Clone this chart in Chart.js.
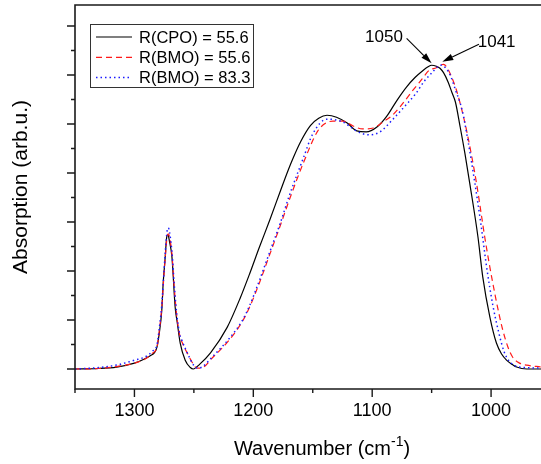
<!DOCTYPE html>
<html>
<head>
<meta charset="utf-8">
<script src="https://cdn.jsdelivr.net/npm/chart.js@4.4.1/dist/chart.umd.min.js"></script>
<style>
  html, body { margin: 0; padding: 0; background: #fff; overflow: hidden; }
  #wrap { width: 541px; height: 464px; }
</style>
</head>
<body>
<div id="wrap"><canvas id="spectrum" width="541" height="464"></canvas></div>
<script>
const FONT = '"Liberation Sans", Arial, sans-serif';

const seriesLabels = ['R(CPO) = 55.6', 'R(BMO) = 55.6', 'R(BMO) = 83.3'];

// R(CPO) = 55.6, black solid
const cpoWave = [1350, 1330, 1315, 1300, 1292, 1286, 1283, 1281, 1279, 1277, 1275.8, 1274.1, 1272.8, 1271.8, 1270.5, 1268.5, 1265.7, 1264, 1261.5, 1257.3, 1253, 1250.5, 1245, 1236, 1222, 1211, 1203, 1195, 1186, 1177, 1168, 1160, 1152, 1145, 1138, 1130, 1121, 1113, 1105, 1096, 1088, 1079, 1071, 1064, 1057, 1053, 1050, 1046, 1043, 1040, 1036, 1033, 1030, 1026, 1022, 1018, 1011, 1007, 1001, 995.5, 991, 987, 982, 978.5, 970, 958];
const cpoAbs = [0, 0.01, 0.04, 0.12, 0.2, 0.28, 0.34, 0.45, 0.75, 1.2, 1.76, 2.29, 2.7, 2.74, 2.6, 2.3, 1.25, 0.95, 0.53, 0.18, 0.03, 0, 0.1, 0.33, 0.85, 1.45, 1.95, 2.48, 3.05, 3.65, 4.22, 4.65, 4.97, 5.12, 5.18, 5.14, 5.02, 4.86, 4.84, 4.94, 5.15, 5.49, 5.76, 5.95, 6.1, 6.17, 6.2, 6.18, 6.14, 6.05, 5.85, 5.65, 5.45, 4.94, 4.4, 3.8, 2.69, 1.88, 1.06, 0.53, 0.3, 0.18, 0.09, 0.04, 0, 0];

// R(BMO) = 55.6, red dashed
const bmo1Wave = [1350, 1330, 1315, 1300, 1290, 1285, 1281, 1279, 1277, 1275.5, 1274, 1272.5, 1271.5, 1270.5, 1268.5, 1266, 1264.3, 1262, 1260, 1255, 1250, 1247.5, 1244, 1234, 1220, 1209, 1203, 1195, 1186, 1177, 1169, 1158, 1146, 1139, 1133, 1124.5, 1116, 1108, 1099, 1091, 1083, 1076.6, 1065.7, 1058, 1052, 1046, 1043, 1040, 1037, 1033, 1029.5, 1026.3, 1020.7, 1012.3, 1005.3, 1001.1, 998.6, 994, 990.2, 986, 981.8, 976, 970, 958];
const bmo1Abs = [0, 0.01, 0.05, 0.12, 0.22, 0.32, 0.45, 0.8, 1.25, 1.8, 2.3, 2.7, 2.76, 2.7, 2.35, 1.5, 1.06, 0.7, 0.55, 0.3, 0.08, 0.02, 0.02, 0.24, 0.6, 0.98, 1.27, 1.75, 2.35, 2.95, 3.5, 4.2, 4.85, 5.02, 5.06, 5.06, 4.96, 4.9, 4.92, 5.04, 5.18, 5.35, 5.69, 5.92, 6.1, 6.15, 6.2, 6.22, 6.15, 5.95, 5.72, 5.45, 4.88, 3.8, 2.69, 2.09, 1.76, 1.2, 0.8, 0.46, 0.24, 0.12, 0.08, 0.04];

// R(BMO) = 83.3, blue dotted
const bmo2Wave = [1350, 1330, 1315, 1300, 1290, 1285, 1281, 1279, 1277, 1275.5, 1274, 1272.5, 1271.5, 1270.5, 1268.5, 1266, 1264.3, 1262, 1260, 1255, 1250, 1247, 1244, 1234, 1220, 1209, 1203, 1195, 1186, 1177, 1170, 1158, 1150, 1138, 1124.5, 1117, 1110, 1102, 1093.4, 1082.5, 1072, 1064, 1056, 1050, 1045, 1042, 1038, 1034, 1030, 1024.5, 1019, 1013.6, 1008.5, 1003.8, 998.5, 993.4, 989, 985, 976, 958];
const bmo2Abs = [0, 0.03, 0.08, 0.18, 0.26, 0.36, 0.5, 0.85, 1.3, 1.85, 2.4, 2.82, 2.88, 2.8, 2.4, 1.55, 1.1, 0.72, 0.58, 0.3, 0.07, 0.02, 0.03, 0.26, 0.63, 1.0, 1.3, 1.8, 2.4, 3.0, 3.52, 4.3, 4.8, 5.1, 5.04, 4.92, 4.82, 4.78, 4.84, 5.1, 5.38, 5.6, 5.88, 6.04, 6.17, 6.2, 6.14, 5.98, 5.7, 5.3, 4.6, 3.79, 2.95, 2.09, 1.3, 0.73, 0.35, 0.17, 0.04, 0.02];

const xMajorTicks = [1300, 1200, 1100, 1000];
const xMinorTicks = [1350, 1250, 1150, 1050];
const yMajorTicks = [0, 1, 2, 3, 4, 5, 6, 7];
const yMinorTicks = [0.5, 1.5, 2.5, 3.5, 4.5, 5.5, 6.5];

const peakLabels = ['1050', '1041'];
const peakWave = [1050, 1041];
const peakAbs = [6.24, 6.27];

const toPoints = (xs, ys) => xs.map((x, i) => ({ x: x, y: ys[i] }));

const styles = [
    { color: '#000000', width: 1.2, dash: [] },
    { color: '#ff1a1a', width: 1.2, dash: [6, 4] },
    { color: '#1a1aff', width: 1.5, dash: [1.5, 3] }
];

const framePlugin = {
    id: 'frame',
    afterDatasetsDraw(chart) {
        const { ctx, chartArea: a, scales: { x, y } } = chart;
        ctx.save();
        ctx.strokeStyle = '#1a1a1a';
        ctx.lineWidth = 1.6;
        ctx.beginPath();
        ctx.moveTo(a.right + 2, a.top);
        ctx.lineTo(a.left, a.top);
        ctx.lineTo(a.left, a.bottom);
        ctx.lineTo(a.right + 2, a.bottom);
        ctx.stroke();

        ctx.lineWidth = 1.4;
        ctx.beginPath();
        yMajorTicks.forEach(v => { const p = y.getPixelForValue(v); ctx.moveTo(a.left, p); ctx.lineTo(a.left - 8, p); });
        yMinorTicks.forEach(v => { const p = y.getPixelForValue(v); ctx.moveTo(a.left, p); ctx.lineTo(a.left - 4, p); });
        xMajorTicks.forEach(v => { const p = x.getPixelForValue(v); ctx.moveTo(p, a.bottom); ctx.lineTo(p, a.bottom + 8); });
        xMinorTicks.forEach(v => { const p = x.getPixelForValue(v); ctx.moveTo(p, a.bottom); ctx.lineTo(p, a.bottom + 4); });
        ctx.stroke();
        ctx.restore();
    }
};

const legendPlugin = {
    id: 'boxLegend',
    afterDraw(chart) {
        const { ctx, chartArea: a } = chart;
        const bx = a.left + 15, by = a.top + 19;
        ctx.save();
        ctx.strokeStyle = '#333';
        ctx.lineWidth = 1;
        ctx.strokeRect(bx + 0.5, by + 0.5, 163, 63);
        ctx.font = '16.5px ' + FONT;
        ctx.textBaseline = 'middle';
        ctx.fillStyle = '#000';
        seriesLabels.forEach((label, i) => {
            const ry = by + 13 + i * 20.3;
            const s = styles[i];
            ctx.strokeStyle = s.color;
            ctx.lineWidth = s.width;
            ctx.setLineDash(s.dash);
            ctx.beginPath();
            ctx.moveTo(bx + 6, ry);
            ctx.lineTo(bx + 42, ry);
            ctx.stroke();
            ctx.setLineDash([]);
            ctx.fillText(label, bx + 49, ry + 1);
        });
        ctx.restore();
    }
};

const peakPlugin = {
    id: 'peaks',
    afterDraw(chart) {
        const { ctx, scales: { x, y } } = chart;
        const offsets = [
            { tx: -47.7, ty: -27.3, ax: -25, ay: -25 },
            { tx: 54.3, ty: -20.7, ax: 36.6, ay: -17.7 }
        ];
        ctx.save();
        ctx.font = '17px ' + FONT;
        ctx.textAlign = 'center';
        ctx.textBaseline = 'middle';
        ctx.fillStyle = '#000';
        ctx.strokeStyle = '#000';
        ctx.lineWidth = 1.1;
        peakLabels.forEach((label, i) => {
            const px = x.getPixelForValue(peakWave[i]);
            const py = y.getPixelForValue(peakAbs[i]);
            const o = offsets[i];
            ctx.fillText(label, px + o.tx, py + o.ty + 1);
            const sx = px + o.ax, sy = py + o.ay;
            const ang = Math.atan2(py - sy, px - sx);
            const hl = 11, hw = 3.3;
            const bxp = px - hl * Math.cos(ang), byp = py - hl * Math.sin(ang);
            ctx.beginPath();
            ctx.moveTo(sx, sy);
            ctx.lineTo(bxp, byp);
            ctx.stroke();
            ctx.beginPath();
            ctx.moveTo(px, py);
            ctx.lineTo(bxp + hw * Math.sin(ang), byp - hw * Math.cos(ang));
            ctx.lineTo(bxp - hw * Math.sin(ang), byp + hw * Math.cos(ang));
            ctx.closePath();
            ctx.fill();
        });
        ctx.restore();
    }
};

// axis titles drawn by hand: the x title needs a superscript
const titlePlugin = {
    id: 'axisTitles',
    afterDraw(chart) {
        const { ctx, chartArea: a } = chart;
        ctx.save();
        ctx.fillStyle = '#000';

        ctx.save();
        ctx.translate(21, a.top + 182);
        ctx.rotate(-Math.PI / 2);
        ctx.font = '21px ' + FONT;
        ctx.textAlign = 'center';
        ctx.textBaseline = 'middle';
        ctx.fillText('Absorption (arb.u.)', 0, 0);
        ctx.restore();

        const main = 'Wavenumber (cm', sup = '-1', close = ')';
        ctx.textBaseline = 'alphabetic';
        ctx.font = '20px ' + FONT;
        const w1 = ctx.measureText(main).width, w3 = ctx.measureText(close).width;
        ctx.font = '14px ' + FONT;
        const w2 = ctx.measureText(sup).width;
        let cx = 322 - (w1 + w2 + w3) / 2;
        const base = 455;
        ctx.font = '20px ' + FONT;
        ctx.fillText(main, cx, base);
        cx += w1;
        ctx.font = '14px ' + FONT;
        ctx.fillText(sup, cx, base - 9);
        cx += w2;
        ctx.font = '20px ' + FONT;
        ctx.fillText(close, cx, base);
        ctx.restore();
    }
};

new Chart(document.getElementById('spectrum').getContext('2d'), {
    type: 'line',
    data: {
        datasets: [
            { label: seriesLabels[0], data: toPoints(cpoWave, cpoAbs) },
            { label: seriesLabels[1], data: toPoints(bmo1Wave, bmo1Abs) },
            { label: seriesLabels[2], data: toPoints(bmo2Wave, bmo2Abs) }
        ].map((d, i) => Object.assign(d, {
            borderColor: styles[i].color,
            borderWidth: styles[i].width,
            borderDash: styles[i].dash,
            pointRadius: 0,
            fill: false,
            cubicInterpolationMode: 'monotone'
        })).reverse()
    },
    options: {
        responsive: false,
        animation: false,
        layout: { padding: { top: 5, left: 0, right: 0, bottom: 0 } },
        plugins: { legend: { display: false }, tooltip: { enabled: false } },
        scales: {
            x: {
                type: 'linear',
                reverse: true,
                min: 958,
                max: 1350,
                afterFit: s => { s.height = 75; },
                afterBuildTicks: s => { s.ticks = xMajorTicks.map(v => ({ value: v })); },
                grid: { display: false, drawTicks: false },
                border: { display: false },
                ticks: {
                    color: '#000',
                    font: { family: FONT, size: 18 },
                    padding: 11,
                    maxRotation: 0,
                    autoSkip: false,
                    callback: v => String(v)
                }
            },
            y: {
                min: -0.408,
                max: 7.43,
                afterFit: s => { s.width = 75; },
                grid: { display: false, drawTicks: false },
                border: { display: false },
                ticks: { display: false }
            }
        }
    },
    plugins: [framePlugin, legendPlugin, peakPlugin, titlePlugin]
});
</script>
</body>
</html>
